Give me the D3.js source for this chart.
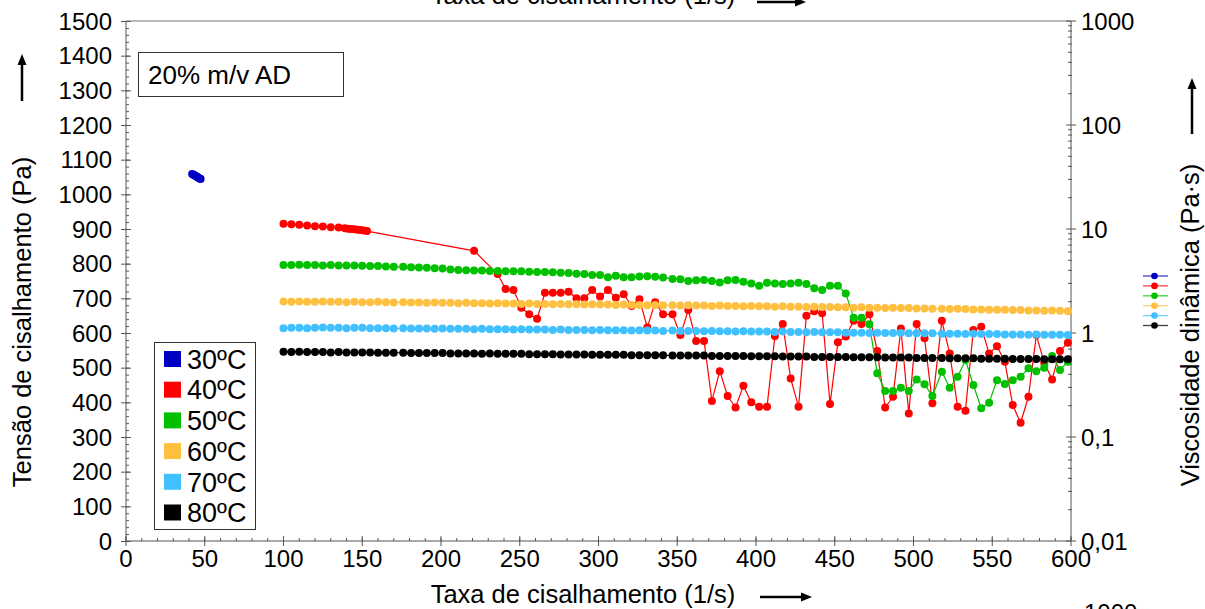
<!DOCTYPE html>
<html>
<head>
<meta charset="utf-8">
<script src="https://cdn.jsdelivr.net/npm/d3@7"></script>
<style>
  body { margin: 0; background: #fff; }
  svg { display: block; font-family: "Liberation Sans", Arial, sans-serif; }
</style>
</head>
<body>
<svg id="chart" width="1205" height="609"></svg>
<script>
// shear rate steps (1/s)
const rates = [100,105,110,115,120,125,130,135,140,145,150,155,160,165,170,
  176,181,186,191,196,201,206,211,216,221,226,231,236,241,246,251,256,261,266,271,276,281,286,291,296,301,306,311,316,321,326,331,336,341,
  347,352,357,362,367,372,377,382,387,392,397,402,407,412,417,422,427,432,437,442,447,452,457,462,467,472,477,482,487,492,497,502,507,512,
  518,523,528,533,538,543,548,553,558,563,568,573,578,583,588,593,598];

const rates30 = [42,42.6,43.2,43.8,44.4,45,45.6,46.2,46.8,47.4];
const vals30 = [1059,1057,1056,1054,1052,1051,1049,1047,1046,1044];

const rates40 = [100,105,110,115,120,125,130,135,139,141,143,145,147,149,151,153,221,
  236,241,246,251,256,261,266,271,276,281,286,291,296,301,306,311,316,321,326,331,336,341,
  347,352,357,362,367,372,377,382,387,392,397,402,407,412,417,422,427,432,437,442,447,452,457,462,467,472,477,482,487,492,497,502,507,512,
  518,523,528,533,538,543,548,553,558,563,568,573,578,583,588,593,598];
const vals40 = [915,914,912,910,908,907,905,904,902,901,900,899,898,897,896,894,837,
  770,727,724,673,654,641,716,716,716,719,700,700,724,705,724,702,712,678,697,616,689,654,
  654,594,666,577,577,404,490,418,385,448,400,387,387,591,626,469,387,650,663,657,395,573,590,635,626,654,548,385,416,613,368,626,585,397,
  635,541,387,376,609,618,541,562,517,392,341,416,594,514,466,548,572];

const vals50 = [796,796,797,796,796,795,796,795,795,795,
  794,793,793,792,791,791,790,789,788,787,
  786,783,782,781,780,780,779,779,778,778,
  778,777,776,776,775,774,773,771,770,767,
  767,761,765,761,761,763,764,762,760,756,
  755,750,752,753,750,746,752,753,748,743,
  736,745,743,741,743,745,741,729,724,736,
  736,714,644,644,625,484,433,433,442,433,
  466,452,418,488,442,474,522,450,383,399,
  464,453,464,474,498,490,500,534,493,517];

const vals60 = [691,690,691,690,690,691,690,690,689,690,
  689,689,690,689,688,689,688,688,687,688,
  687,687,686,687,686,686,685,686,685,685,
  684,685,684,684,683,684,683,683,682,683,
  682,682,681,682,681,681,680,681,680,680,
  679,680,679,679,678,679,678,678,677,678,
  677,677,676,677,676,676,675,676,675,675,
  674,674,673,674,673,673,672,673,672,672,
  671,671,670,670,669,670,669,668,668,667,
  667,667,666,666,665,665,664,665,664,663];

const vals70 = [614,615,615,614,615,616,615,615,614,615,
  615,614,614,614,613,614,613,613,613,612,
  613,612,612,612,611,612,611,611,611,610,
  611,610,610,610,609,610,609,609,609,608,
  609,608,608,608,607,608,607,607,606,607,
  606,606,606,605,606,605,605,604,605,604,
  604,604,603,604,603,603,602,603,602,602,
  602,601,601,601,600,601,600,600,600,599,
  599,599,599,598,598,598,597,598,597,597,
  597,596,596,596,595,596,595,595,595,594];

const vals80 = [546,545,546,545,545,545,544,545,544,544,
  544,544,543,543,543,543,542,542,542,542,
  542,541,541,541,541,540,541,540,540,540,
  540,539,539,539,539,538,538,538,538,537,
  537,537,537,537,536,536,536,536,536,535,
  535,535,535,535,534,534,534,534,534,533,
  533,533,533,532,532,532,532,531,531,531,
  531,531,530,530,530,530,529,529,529,529,
  528,528,528,528,527,527,527,527,526,526,
  526,526,525,525,525,525,524,524,524,524];

const labels = ["30ºC", "40ºC", "50ºC", "60ºC", "70ºC", "80ºC"];
const colors = ["#0000c0", "#ff0000", "#00c000", "#ffc040", "#40c0ff", "#000000"];

const xTicks = d3.range(0, 601, 50);
const yTicks = d3.range(0, 1501, 100);
const rTicks = [0.01, 0.1, 1, 10, 100, 1000];
const rTickLabels = ["0,01", "0,1", "1", "10", "100", "1000"];

const series = [
  { x: rates30, y: vals30 },
  { x: rates40, y: vals40 },
  { x: rates, y: vals50 },
  { x: rates, y: vals60 },
  { x: rates, y: vals70 },
  { x: rates, y: vals80 },
];

const svg = d3.select("#chart");
const x = d3.scaleLinear().domain([0, 600]).range([126, 1071]);
const y = d3.scaleLinear().domain([0, 1500]).range([541, 21]);
const yr = d3.scaleLog().domain([0.01, 1000]).range([541, 21]);
const axisColor = "#555";
const fs = 24;     // tick labels
const tfs = 25.5;  // axis titles

// frame top line
svg.append("line").attr("x1", x(0)).attr("x2", x(600)).attr("y1", y(1500)).attr("y2", y(1500))
  .attr("stroke", "#777").attr("stroke-width", 1);

// left axis
svg.append("line").attr("x1", x(0)).attr("x2", x(0)).attr("y1", y(0)).attr("y2", y(1500))
  .attr("stroke", axisColor);
svg.selectAll(".ly-minor").data(d3.range(0, 1501, 20)).enter().append("line")
  .attr("x1", x(0)).attr("x2", x(0) + 3).attr("y1", d => y(d) + 0.5).attr("y2", d => y(d) + 0.5)
  .attr("stroke", axisColor);
svg.selectAll(".ly-major").data(yTicks).enter().append("line")
  .attr("x1", x(0) - 5).attr("x2", x(0) + 5).attr("y1", d => y(d) + 0.5).attr("y2", d => y(d) + 0.5)
  .attr("stroke", axisColor);
svg.selectAll(".ly-lab").data(yTicks).enter().append("text")
  .attr("x", 112).attr("y", d => y(d)).attr("dy", "0.36em")
  .attr("text-anchor", "end").attr("font-size", fs).text(d => d);

// bottom axis
svg.append("line").attr("x1", x(0)).attr("x2", x(600)).attr("y1", y(0)).attr("y2", y(0))
  .attr("stroke", axisColor);
svg.selectAll(".bx-minor").data(d3.range(0, 601, 10)).enter().append("line")
  .attr("x1", d => x(d)).attr("x2", d => x(d)).attr("y1", y(0)).attr("y2", y(0) - 3)
  .attr("stroke", axisColor);
svg.selectAll(".bx-major").data(xTicks).enter().append("line")
  .attr("x1", d => x(d)).attr("x2", d => x(d)).attr("y1", y(0) - 5).attr("y2", y(0) + 5)
  .attr("stroke", axisColor);
svg.selectAll(".bx-lab").data(xTicks).enter().append("text")
  .attr("x", d => x(d)).attr("y", 567)
  .attr("text-anchor", "middle").attr("font-size", fs).text(d => d);

// right log axis
svg.append("line").attr("x1", x(600)).attr("x2", x(600)).attr("y1", y(0)).attr("y2", y(1500))
  .attr("stroke", axisColor);
const rMinor = [];
[0.01, 0.1, 1, 10, 100].forEach(b => d3.range(2, 10).forEach(m => rMinor.push(b * m)));
svg.selectAll(".ry-minor").data(rMinor).enter().append("line")
  .attr("x1", x(600) - 3).attr("x2", x(600) + 1).attr("y1", d => yr(d)).attr("y2", d => yr(d))
  .attr("stroke", axisColor);
svg.selectAll(".ry-major").data(rTicks).enter().append("line")
  .attr("x1", x(600) - 5).attr("x2", x(600) + 5).attr("y1", d => yr(d)).attr("y2", d => yr(d))
  .attr("stroke", axisColor);
svg.selectAll(".ry-lab").data(rTicks).enter().append("text")
  .attr("x", 1081).attr("y", d => yr(d)).attr("dy", "0.36em")
  .attr("font-size", fs).text((d, i) => rTickLabels[i]);

// series
const line = d3.line().x(d => x(d[0])).y(d => y(d[1]));
series.forEach((s, i) => {
  const pts = s.x.map((v, j) => [v, s.y[j]]);
  const g = svg.append("g");
  g.append("path").datum(pts).attr("d", line)
    .attr("fill", "none").attr("stroke", colors[i]).attr("stroke-width", 1.2);
  g.selectAll("circle").data(pts).enter().append("circle")
    .attr("cx", d => x(d[0])).attr("cy", d => y(d[1])).attr("r", 4)
    .attr("fill", colors[i]);
});

// sample box
svg.append("rect").attr("x", 138.5).attr("y", 52.5).attr("width", 205).attr("height", 44)
  .attr("fill", "#fff").attr("stroke", "#333");
svg.append("text").attr("x", 148).attr("y", 84).attr("font-size", 26).text("20% m/v AD");

// legend
svg.append("rect").attr("x", 154.5).attr("y", 342.5).attr("width", 101).attr("height", 187)
  .attr("fill", "#fff").attr("stroke", "#333");
labels.forEach((l, i) => {
  const cy = 359 + i * 30.7;
  svg.append("rect").attr("x", 164).attr("y", cy - 8).attr("width", 17).attr("height", 16)
    .attr("fill", colors[i]);
  svg.append("text").attr("x", 187).attr("y", cy).attr("dy", "0.36em")
    .attr("font-size", 27).text(l);
});

// right-side line legend
colors.forEach((c, i) => {
  const ly = 276 + i * 9.9;
  svg.append("line").attr("x1", 1143).attr("x2", 1168).attr("y1", ly).attr("y2", ly)
    .attr("stroke", c).attr("stroke-width", 1.3).attr("opacity", 0.75);
  svg.append("circle").attr("cx", 1154.5).attr("cy", ly).attr("r", 3.3).attr("fill", c);
});

// axis titles
svg.append("text").attr("transform", "translate(31,322) rotate(-90)")
  .attr("text-anchor", "middle").attr("font-size", tfs).text("Tensão de cisalhamento (Pa)");
svg.append("text").attr("transform", "translate(1199,325) rotate(-90)")
  .attr("text-anchor", "middle").attr("font-size", tfs).text("Viscosidade dinâmica (Pa·s)");
svg.append("text").attr("x", 583).attr("y", 603)
  .attr("text-anchor", "middle").attr("font-size", tfs).text("Taxa de cisalhamento (1/s)");
// cut-off pieces of the neighbouring chart
svg.append("text").attr("x", 583).attr("y", 4)
  .attr("text-anchor", "middle").attr("font-size", tfs).text("Taxa de cisalhamento (1/s)");
svg.append("text").attr("x", 1084).attr("y", 621).attr("font-size", fs).text("1000");

// arrows
function arrow(x1, y1, x2, y2) {
  const a = Math.atan2(y2 - y1, x2 - x1);
  const L = 11, W = 4.5;
  const bx = x2 - L * Math.cos(a), by = y2 - L * Math.sin(a);
  svg.append("line").attr("x1", x1).attr("y1", y1).attr("x2", bx).attr("y2", by)
    .attr("stroke", "#000").attr("stroke-width", 2.5);
  svg.append("path")
    .attr("d", `M${x2},${y2}L${bx + W * Math.sin(a)},${by - W * Math.cos(a)}L${bx - W * Math.sin(a)},${by + W * Math.cos(a)}Z`)
    .attr("fill", "#000");
}
arrow(22, 101, 22, 54);
arrow(1192, 134, 1192, 78);
arrow(760, 597, 812, 597);
arrow(757, 2, 806, 2);
</script>
</body>
</html>
